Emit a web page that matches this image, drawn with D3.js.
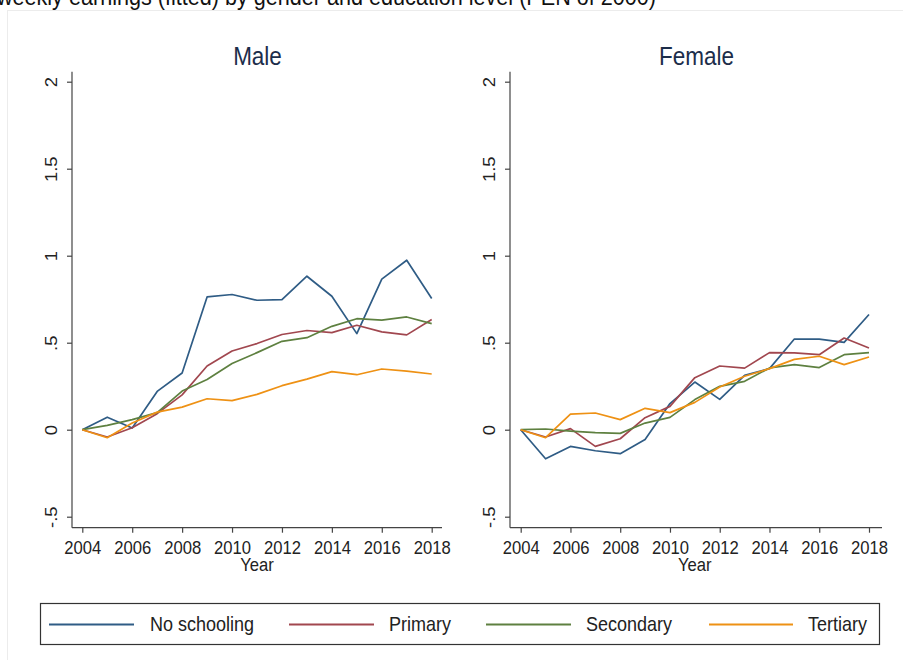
<!DOCTYPE html>
<html>
<head>
<meta charset="utf-8">
<script src="https://cdn.jsdelivr.net/npm/d3@7/dist/d3.min.js"></script>
<style>
  html, body { margin: 0; padding: 0; background: #fff; }
  svg { display: block; font-family: "Liberation Sans", Arial, sans-serif; }
</style>
</head>
<body>
<svg id="chart" width="903" height="660"></svg>
<script>
// ---------- data ----------
const years = [2004,2005,2006,2007,2008,2009,2010,2011,2012,2013,2014,2015,2016,2017,2018];
const seriesNames = ["No schooling", "Primary", "Secondary", "Tertiary"];
const panelNames = ["Male", "Female"];
const xTickValues = [2004,2006,2008,2010,2012,2014,2016,2018];
const yTickValues = [-0.5, 0, 0.5, 1, 1.5, 2];

const maleNoSchooling = [0, 0.072, 0.010, 0.220, 0.326, 0.763, 0.777, 0.744, 0.748, 0.882, 0.767, 0.552, 0.865, 0.974, 0.754];
const malePrimary     = [0, -0.042, 0.011, 0.092, 0.200, 0.366, 0.452, 0.495, 0.547, 0.570, 0.558, 0.600, 0.562, 0.545, 0.633];
const maleSecondary   = [0, 0.025, 0.058, 0.098, 0.222, 0.288, 0.380, 0.443, 0.508, 0.529, 0.594, 0.638, 0.630, 0.648, 0.610];
const maleTertiary    = [0, -0.046, 0.038, 0.101, 0.130, 0.178, 0.167, 0.203, 0.253, 0.291, 0.334, 0.316, 0.349, 0.337, 0.320];

const femaleNoSchooling = [0, -0.167, -0.096, -0.121, -0.138, -0.056, 0.150, 0.274, 0.174, 0.312, 0.351, 0.521, 0.521, 0.502, 0.662];
const femalePrimary     = [0, -0.042, 0.006, -0.096, -0.052, 0.069, 0.134, 0.299, 0.366, 0.354, 0.443, 0.441, 0.431, 0.527, 0.470];
const femaleSecondary   = [0, 0.004, -0.008, -0.017, -0.021, 0.038, 0.071, 0.173, 0.249, 0.278, 0.355, 0.374, 0.357, 0.431, 0.443];
const femaleTertiary    = [0, -0.046, 0.090, 0.096, 0.058, 0.123, 0.098, 0.157, 0.245, 0.307, 0.351, 0.404, 0.422, 0.374, 0.418];

const titleText = "weekly earnings (fitted) by gender and education level (PEN of 2000)";
const xAxisTitle = "Year";

// ---------- styles ----------
const colors = ["#2f5c85", "#a1474f", "#5e8040", "#ee9114"];
const SX = 0.9; // horizontal text compression of the reference
const textColor = "#222";
const axisColor = "#444";

const svg = d3.select("#chart");

// faint outer graph region border
svg.append("rect").attr("x", 7.5).attr("y", 10.5).attr("width", 1000).attr("height", 1000)
  .attr("fill", "none").attr("stroke", "#ececec");

// top title (cut off by the top edge, as in the reference)
svg.append("text")
  .attr("transform", `translate(656,5) scale(${SX},1)`)
  .attr("text-anchor", "end")
  .attr("font-size", 24)
  .attr("fill", "#111")
  .text(titleText);

const panelData = {
  "Male": [maleNoSchooling, malePrimary, maleSecondary, maleTertiary],
  "Female": [femaleNoSchooling, femalePrimary, femaleSecondary, femaleTertiary]
};

const panels = [
  { name: "Male",   axisX: 72,  x0: 82.3,  x1: 431.7, axisEnd: 442 },
  { name: "Female", axisX: 510, x0: 520.7, x1: 869,   axisEnd: 882 }
];

const yTop = 71.7, yBottom = 527.7;
const y = d3.scaleLinear().domain([-0.5, 2]).range([516.7, 81.7]);

const fmtY = v => v === 0 ? "0" : String(v).replace("0.", ".");

panels.forEach(p => {
  const x = d3.scaleLinear().domain([2004, 2018]).range([p.x0, p.x1]);
  const g = svg.append("g");

  // axis lines
  g.append("line").attr("x1", p.axisX).attr("x2", p.axisX).attr("y1", yTop).attr("y2", yBottom)
    .attr("stroke", axisColor).attr("stroke-width", 1.2);
  g.append("line").attr("x1", p.axisX).attr("x2", p.axisEnd).attr("y1", yBottom).attr("y2", yBottom)
    .attr("stroke", axisColor).attr("stroke-width", 1.2);

  // y axis
  const yAxis = g.append("g").attr("transform", `translate(${p.axisX},0)`)
    .call(d3.axisLeft(y).tickValues(yTickValues).tickSize(5).tickFormat(fmtY));
  yAxis.select(".domain").remove();
  yAxis.selectAll(".tick line").attr("stroke", axisColor).attr("stroke-width", 1.2);
  yAxis.selectAll(".tick text")
    .attr("x", null).attr("dy", null)
    .attr("transform", `translate(-20.5,0) rotate(-90) scale(1,${SX})`)
    .attr("text-anchor", "middle")
    .attr("dominant-baseline", "central")
    .attr("font-size", 18.5)
    .attr("font-family", "Liberation Sans, Arial, sans-serif")
    .attr("fill", textColor);

  // x axis
  const xAxis = g.append("g").attr("transform", `translate(0,${yBottom})`)
    .call(d3.axisBottom(x).tickValues(xTickValues).tickSize(5).tickFormat(d3.format("d")));
  xAxis.select(".domain").remove();
  xAxis.selectAll(".tick line").attr("stroke", axisColor).attr("stroke-width", 1.2);
  xAxis.selectAll(".tick text")
    .attr("y", null).attr("dy", null)
    .attr("transform", `translate(0,26.5) scale(${SX},1)`)
    .attr("text-anchor", "middle")
    .attr("font-size", 18.5)
    .attr("font-family", "Liberation Sans, Arial, sans-serif")
    .attr("fill", textColor);

  // x axis title
  g.append("text")
    .attr("transform", `translate(${(p.x0 + p.x1) / 2},571) scale(${SX},1)`)
    .attr("text-anchor", "middle")
    .attr("font-size", 18.5)
    .attr("fill", textColor)
    .text(xAxisTitle);

  // panel title
  g.append("text")
    .attr("transform", `translate(${(p.axisX + p.axisEnd) / 2 + 0.5},64.5) scale(${SX},1)`)
    .attr("text-anchor", "middle")
    .attr("font-size", 25)
    .attr("fill", "#1c2d4a")
    .text(p.name);

  // lines
  const line = d3.line().x((d, i) => x(years[i])).y(d => y(d));
  panelData[p.name].forEach((vals, si) => {
    g.append("path")
      .datum(vals)
      .attr("d", line)
      .attr("fill", "none")
      .attr("stroke", colors[si])
      .attr("stroke-width", 1.7)
      .attr("stroke-linejoin", "round");
  });
});

// ---------- legend ----------
const legend = svg.append("g");
legend.append("rect").attr("x", 40.5).attr("y", 603.5).attr("width", 839).attr("height", 41)
  .attr("fill", "#fff").attr("stroke", "#333").attr("stroke-width", 1.2);

const legendItems = [
  { lx0: 49,  lx1: 134, tx: 150 },
  { lx0: 289, lx1: 374, tx: 389 },
  { lx0: 486, lx1: 571, tx: 586 },
  { lx0: 709, lx1: 793, tx: 808 }
];
seriesNames.forEach((name, i) => {
  const it = legendItems[i];
  legend.append("line").attr("x1", it.lx0).attr("x2", it.lx1).attr("y1", 624.5).attr("y2", 624.5)
    .attr("stroke", colors[i]).attr("stroke-width", 1.8);
  legend.append("text")
    .attr("transform", `translate(${it.tx},631) scale(${SX},1)`)
    .attr("font-size", 20)
    .attr("fill", textColor)
    .text(name);
});
</script>
</body>
</html>
